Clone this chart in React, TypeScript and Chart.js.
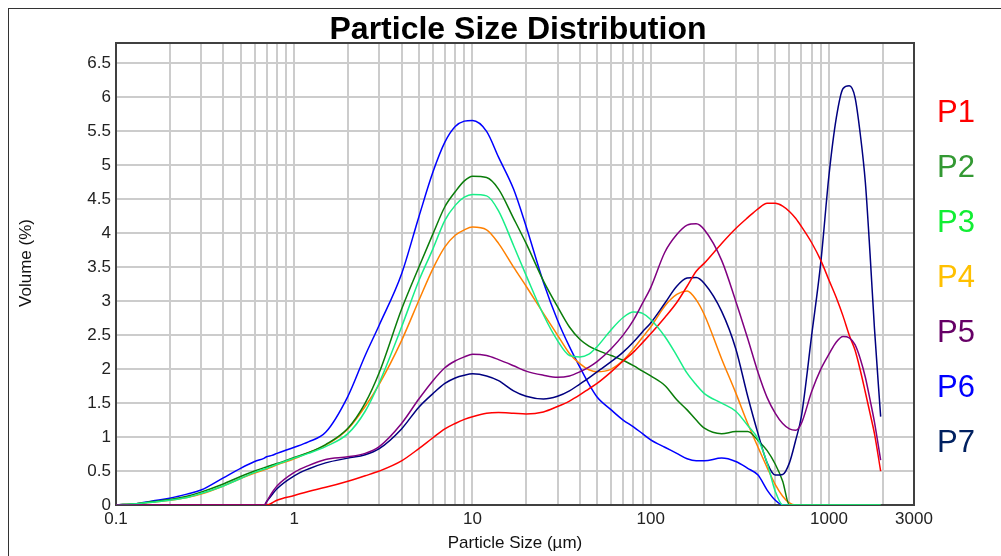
import React, { useEffect, useRef } from 'react';
import { Chart, registerables } from 'chart.js';

Chart.register(...registerables);

// Particle sizes (µm) shared by all series
const sizes = [
  0.1, 0.13, 0.16, 0.2, 0.25, 0.3, 0.4, 0.5, 0.6, 0.68,
  0.7, 0.75, 0.8, 1, 1.2, 1.5, 2, 2.5, 3, 4,
  5, 6, 7, 8, 9, 10, 12, 14, 17, 20,
  25, 30, 35, 40, 45, 50, 60, 70, 80, 90,
  100, 120, 140, 160, 180, 200, 250, 300, 350, 400,
  450, 500, 550, 600, 650, 700, 800, 900, 1000, 1100,
  1200, 1300, 1400, 1500, 1600, 1700, 1800, 1950,
];

const p1 = [
  0, 0, 0, 0, 0, 0, 0, 0, 0, 0,
  0, 0.03, 0.07, 0.14, 0.2, 0.26, 0.35, 0.43, 0.5, 0.65,
  0.83, 0.99, 1.12, 1.2, 1.26, 1.3, 1.35, 1.36, 1.35, 1.34,
  1.37, 1.45, 1.53, 1.62, 1.71, 1.79, 1.96, 2.12, 2.25, 2.39,
  2.52, 2.76, 2.98, 3.22, 3.44, 3.56, 3.85, 4.07, 4.23, 4.36,
  4.44, 4.44, 4.4, 4.32, 4.22, 4.1, 3.86, 3.6, 3.31, 3.05,
  2.78, 2.5, 2.28, 1.98, 1.66, 1.35, 1.05, 0.5,
];

const p2 = [
  0, 0.02, 0.05, 0.08, 0.13, 0.19, 0.31, 0.42, 0.5, 0.55,
  0.56, 0.59, 0.61, 0.7, 0.77, 0.89, 1.13, 1.5, 1.95, 2.88,
  3.5, 3.99, 4.39, 4.61, 4.77, 4.84, 4.82, 4.65, 4.22, 3.85,
  3.3, 2.92, 2.62, 2.44, 2.34, 2.28, 2.2, 2.13, 2.05, 1.97,
  1.9, 1.76, 1.55, 1.4, 1.25, 1.13, 1.05, 1.08, 1.08, 0.95,
  0.8, 0.6, 0.35, 0, 0, 0, 0, 0, 0, 0,
  0, 0, 0, 0, 0, 0, 0, 0,
];

const p3 = [
  0, 0.02, 0.04, 0.07, 0.11, 0.17, 0.28, 0.39, 0.48, 0.53,
  0.54, 0.57, 0.6, 0.69, 0.76, 0.86, 1.05, 1.38, 1.8, 2.62,
  3.3, 3.77, 4.19, 4.41, 4.53, 4.57, 4.55, 4.33, 3.82, 3.38,
  2.8, 2.42, 2.2, 2.18, 2.22, 2.33, 2.58, 2.76, 2.84, 2.82,
  2.73, 2.48, 2.2, 1.94, 1.77, 1.64, 1.5, 1.38, 1.17, 0.97,
  0.62, 0.2, 0, 0, 0, 0, 0, 0, 0, 0,
  0, 0, 0, 0, 0, 0, 0, 0,
];

const p4 = [
  0, 0.02, 0.04, 0.07, 0.11, 0.16, 0.28, 0.39, 0.47, 0.52,
  0.53, 0.56, 0.59, 0.68, 0.77, 0.88, 1.12, 1.45, 1.78, 2.42,
  3.01, 3.48, 3.8, 3.97, 4.05, 4.09, 4.05, 3.85, 3.5, 3.22,
  2.82, 2.5, 2.23, 2.08, 1.99, 1.96, 2.0, 2.13, 2.3, 2.47,
  2.62, 2.93, 3.1, 3.15, 3.02, 2.8, 2.15, 1.65, 1.2, 0.85,
  0.55, 0.3, 0.13, 0.03, 0, 0, 0, 0, 0, 0,
  0, 0, 0, 0, 0, 0, 0, 0,
];

const p5 = [
  0, 0, 0, 0, 0, 0, 0, 0, 0, 0,
  0.05, 0.18, 0.28, 0.48, 0.58, 0.67, 0.71, 0.76, 0.86, 1.2,
  1.56, 1.83, 2.02, 2.12, 2.18, 2.22, 2.2, 2.14, 2.05, 1.97,
  1.91, 1.88, 1.9, 1.96, 2.03, 2.11, 2.3, 2.5, 2.72, 2.97,
  3.2, 3.72, 3.98, 4.12, 4.14, 4.05, 3.6, 3.0, 2.45, 1.95,
  1.58, 1.35, 1.2, 1.12, 1.1, 1.2, 1.67, 2.0, 2.22, 2.4,
  2.48, 2.46, 2.36, 2.15, 1.88, 1.55, 1.22, 0.66,
];

const p6 = [
  0, 0.02, 0.06, 0.1, 0.16, 0.22, 0.4, 0.54, 0.64, 0.69,
  0.71, 0.73, 0.76, 0.85, 0.93, 1.07, 1.6, 2.2, 2.65, 3.4,
  4.24, 4.9, 5.34, 5.57, 5.65, 5.66, 5.5, 5.12, 4.65, 4.1,
  3.28, 2.72, 2.33, 2.03, 1.78, 1.59, 1.4, 1.25, 1.15, 1.05,
  0.96, 0.85, 0.76, 0.68, 0.65, 0.65, 0.69, 0.64, 0.54, 0.44,
  0.22, 0.07, 0, 0, 0, 0, 0, 0, 0, 0,
  0, 0, 0, 0, 0, 0, 0, 0,
];

const p7 = [
  0, 0, 0, 0, 0, 0, 0, 0, 0, 0,
  0.05, 0.15, 0.24, 0.43, 0.53, 0.62, 0.69, 0.74, 0.83, 1.12,
  1.44, 1.64, 1.79, 1.87, 1.91, 1.93, 1.9, 1.83, 1.68, 1.6,
  1.56, 1.6, 1.68, 1.78, 1.87, 1.96, 2.11, 2.25, 2.4, 2.55,
  2.68, 2.97, 3.22, 3.34, 3.35, 3.26, 2.85, 2.3, 1.6, 1.05,
  0.62, 0.44, 0.45, 0.62, 0.95, 1.3, 2.5, 3.57, 4.85, 5.7,
  6.13, 6.17, 6.0, 5.45, 4.75, 3.7, 2.6, 1.3,
];

const seriesNames = ['P1', 'P2', 'P3', 'P4', 'P5', 'P6', 'P7'];
const lineColors = ['#ff0000', '#0a7d0a', '#19ee88', '#ff8000', '#800080', '#0000ff', '#000080'];
const legendColors = ['#ff0000', '#339933', '#11ee33', '#ffc000', '#660066', '#0000ff', '#002060'];
const drawOrder = [2, 4, 1, 5, 0, 6, 3];

const xTickValues = [
  0.1, 0.2, 0.3, 0.4, 0.5, 0.6, 0.7, 0.8, 0.9,
  1, 2, 3, 4, 5, 6, 7, 8, 9,
  10, 20, 30, 40, 50, 60, 70, 80, 90,
  100, 200, 300, 400, 500, 600, 700, 800, 900,
  1000, 2000, 3000,
];
const xTickLabels = [0.1, 1, 10, 100, 1000, 3000];
const yTickValues = [0, 0.5, 1, 1.5, 2, 2.5, 3, 3.5, 4, 4.5, 5, 5.5, 6, 6.5];

const chartTitle = 'Particle Size Distribution';
const xTitle = 'Particle Size (µm)';
const yTitle = 'Volume (%)';

const FONT = '"Liberation Sans", Arial, Helvetica, sans-serif';

export default function App() {
  const ref = useRef<HTMLCanvasElement>(null);

  useEffect(() => {
    const canvas = ref.current;
    if (!canvas) return;
    const series = [p1, p2, p3, p4, p5, p6, p7];
    const datasets = series.map((vals, i) => ({
      label: seriesNames[i],
      data: sizes.map((x, j) => ({ x, y: vals[j] })),
      borderColor: lineColors[i],
      backgroundColor: lineColors[i],
      borderWidth: 1.5,
      pointRadius: 0,
      pointHoverRadius: 0,
      fill: false,
      cubicInterpolationMode: 'monotone' as const,
      order: drawOrder[i],
    }));

    const decor = {
      id: 'decor',
      beforeDatasetsDraw(chart: any) {
        const { ctx, chartArea: a } = chart;
        ctx.save();
        ctx.strokeStyle = '#404040';
        ctx.lineWidth = 2;
        ctx.strokeRect(a.left, a.top, a.right - a.left, a.bottom - a.top);
        ctx.restore();
      },
      afterDraw(chart: any) {
        const { ctx } = chart;
        ctx.save();
        // title
        ctx.fillStyle = '#000';
        ctx.font = `bold 32px ${FONT}`;
        ctx.textAlign = 'center';
        ctx.textBaseline = 'alphabetic';
        ctx.fillText(chartTitle, 509, 30);
        // axis titles
        ctx.fillStyle = '#111';
        ctx.font = `17px ${FONT}`;
        ctx.fillText(xTitle, 506, 539);
        ctx.save();
        ctx.translate(22, 254);
        ctx.rotate(-Math.PI / 2);
        ctx.textBaseline = 'alphabetic';
        ctx.fillText(yTitle, 0, 0);
        ctx.restore();
        // legend
        ctx.font = `31px ${FONT}`;
        ctx.textAlign = 'left';
        seriesNames.forEach((name, i) => {
          ctx.fillStyle = legendColors[i];
          ctx.fillText(name, 928, 113 + 55 * i);
        });
        ctx.restore();
      },
    };

    const chart = new Chart(canvas, {
      type: 'line',
      data: { datasets },
      options: {
        animation: false,
        responsive: false,
        events: [],
        layout: { padding: { left: 0, right: 87, top: 34, bottom: 0 } },
        plugins: {
          legend: { display: false },
          title: { display: false },
          tooltip: { enabled: false },
        },
        scales: {
          x: {
            type: 'logarithmic',
            min: 0.1,
            max: 3000,
            afterBuildTicks: (s: any) => {
              s.ticks = xTickValues.map((v) => ({ value: v }));
            },
            afterFit: (s: any) => {
              s.height = 51;
            },
            ticks: {
              autoSkip: false,
              maxRotation: 0,
              padding: 4,
              color: '#222',
              font: { family: FONT, size: 17 },
              callback: (v: any) => (xTickLabels.includes(Number(v)) ? String(v) : ''),
            },
            grid: { color: '#cccccc', lineWidth: 2, drawTicks: false },
            border: { display: false },
          },
          y: {
            type: 'linear',
            min: 0,
            max: 6.8,
            afterBuildTicks: (s: any) => {
              s.ticks = yTickValues.map((v) => ({ value: v }));
            },
            afterFit: (s: any) => {
              s.width = 107;
            },
            ticks: {
              padding: 5,
              color: '#222',
              font: { family: FONT, size: 17 },
              callback: (v: any) => String(v),
            },
            grid: { color: '#cccccc', lineWidth: 2, drawTicks: false },
            border: { display: false },
          },
        },
      },
      plugins: [decor],
    } as any);

    return () => chart.destroy();
  }, []);

  return (
    <div
      style={{
        position: 'fixed',
        left: 8,
        top: 8,
        width: 993,
        height: 548,
        borderTop: '1px solid #333',
        borderLeft: '1px solid #333',
        boxSizing: 'border-box',
        background: '#fff',
      }}
    >
      <canvas ref={ref} width={992} height={547} style={{ display: 'block' }} />
    </div>
  );
}
